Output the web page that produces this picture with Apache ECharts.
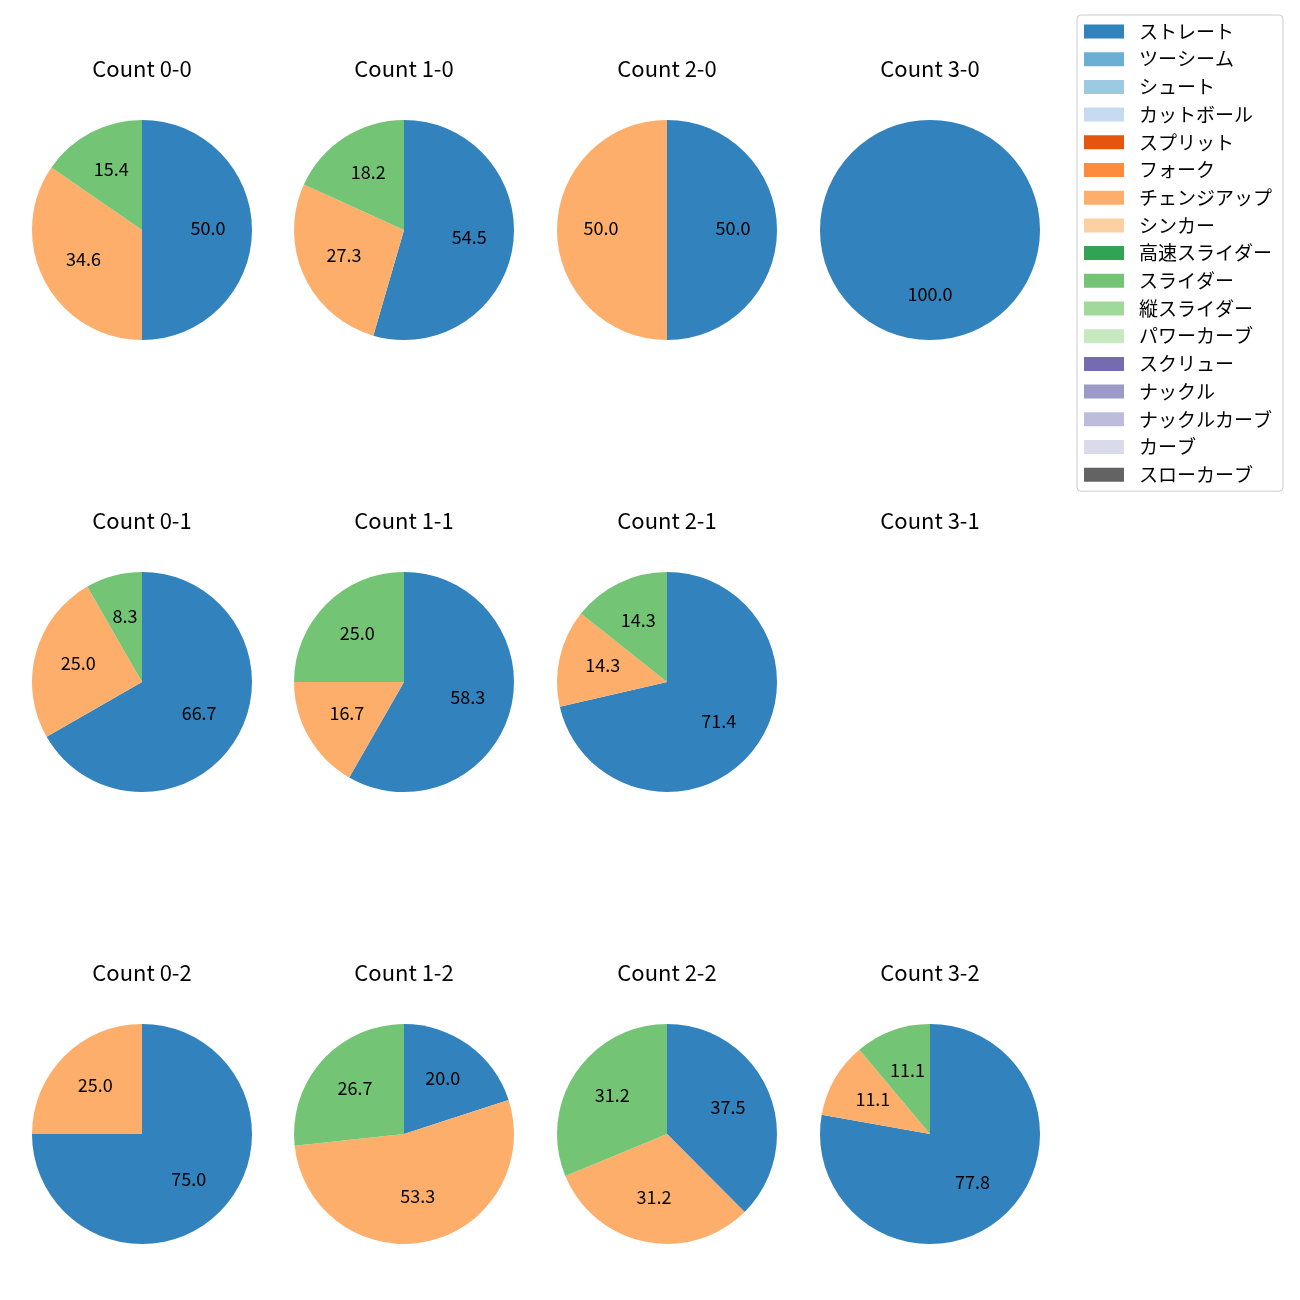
<!DOCTYPE html>
<html><head><meta charset="utf-8">
<script src="https://cdn.jsdelivr.net/npm/echarts@6/dist/echarts.min.js"></script>
<style>html,body{margin:0;padding:0;background:#fff}#c{width:1300px;height:1300px}</style>
</head><body><div id="c"></div>
<script>
const categories = ['ストレート','ツーシーム','シュート','カットボール','スプリット','フォーク','チェンジアップ','シンカー','高速スライダー','スライダー','縦スライダー','パワーカーブ','スクリュー','ナックル','ナックルカーブ','カーブ','スローカーブ'];
const colors = ['#3182bd','#6baed6','#9ecae1','#c6dbef','#e6550d','#fd8d3c','#fdae6b','#fdd0a2','#31a354','#74c476','#a1d99b','#c7e9c0','#756bb1','#9e9ac8','#bcbddc','#dadaeb','#636363'];
const sliceCats = ['ストレート','チェンジアップ','スライダー'];
const countLabels = ['0-0','1-0','2-0','3-0','0-1','1-1','2-1','3-1','0-2','1-2','2-2','3-2'];
const pie00 = [50.0, 34.6, 15.4];
const pie10 = [54.5, 27.3, 18.2];
const pie20 = [50.0, 50.0, 0];
const pie30 = [100.0, 0, 0];
const pie01 = [66.7, 25.0, 8.3];
const pie11 = [58.3, 16.7, 25.0];
const pie21 = [71.4, 14.3, 14.3];
const pie31 = [0, 0, 0];
const pie02 = [75.0, 25.0, 0];
const pie12 = [20.0, 53.3, 26.7];
const pie22 = [37.5, 31.2, 31.2];
const pie32 = [77.8, 11.1, 11.1];
const pies = [pie00,pie10,pie20,pie30,pie01,pie11,pie21,pie31,pie02,pie12,pie22,pie32];

const FONT = '"Noto Sans CJK JP", "Noto Sans", sans-serif';
const colX = [142, 404, 667, 930];
const rowY = [230, 682, 1134];
const R = 110;

const titles = [];
const series = [];
countLabels.forEach((lab, i) => {
  const cx = colX[i % 4], cy = rowY[Math.floor(i / 4)];
  titles.push({text: 'Count ' + lab, left: cx, top: cy - 172, textAlign: 'center', padding: 0,
    textStyle: {fontFamily: FONT, fontSize: 22, fontWeight: 'normal', color: '#000'}});
  const data = [];
  pies[i].forEach((v, k) => {
    if (v > 0) {
      const ci = categories.indexOf(sliceCats[k]);
      data.push({name: sliceCats[k], value: v, itemStyle: {color: colors[ci]}});
    }
  });
  if (!data.length) return;
  series.push({type: 'pie', center: [cx, cy], radius: [0, R], startAngle: 90, clockwise: true,
    silent: true, animation: false, label: {show: false}, labelLine: {show: false},
    itemStyle: {borderWidth: 0}, emphasis: {disabled: true}, data: data});
  series.push({type: 'pie', center: [cx, cy], radius: [16, R], startAngle: 90, clockwise: true,
    silent: true, animation: false, labelLine: {show: false}, emphasis: {disabled: true},
    itemStyle: {color: 'rgba(0,0,0,0)', borderWidth: 0},
    label: {show: true, position: 'inside', color: '#000', fontFamily: FONT, fontSize: 18,
      offset: [0, -2], formatter: p => p.value.toFixed(1)},
    data: data.map(d => ({name: d.name, value: d.value, itemStyle: {color: 'rgba(0,0,0,0)'}}))});
});
// legend carrier
series.push({type: 'pie', center: [-100, -100], radius: [0, 0], silent: true, animation: false,
  label: {show: false}, labelLine: {show: false},
  data: categories.map((c, i) => ({name: c, value: 1, itemStyle: {color: colors[i]}}))});

const chart = echarts.init(document.getElementById('c'), null, {renderer: 'canvas'});
chart.setOption({
  backgroundColor: '#fff',
  animation: false,
  title: titles,
  legend: {
    data: categories.map((c, i) => ({name: c, itemStyle: {color: colors[i]}})),
    orient: 'vertical', left: 1077, top: 15,
    padding: [7, 11, 7, 7],
    itemWidth: 40, itemHeight: 14, itemGap: 8.7,
    icon: 'rect', selectedMode: false,
    borderColor: '#cccccc', borderWidth: 1, borderRadius: 4,
    textStyle: {fontFamily: FONT, fontSize: 19, color: '#000', lineHeight: 14, padding: [0, 0, 0, 10]}
  },
  series: series
});
</script></body></html>
